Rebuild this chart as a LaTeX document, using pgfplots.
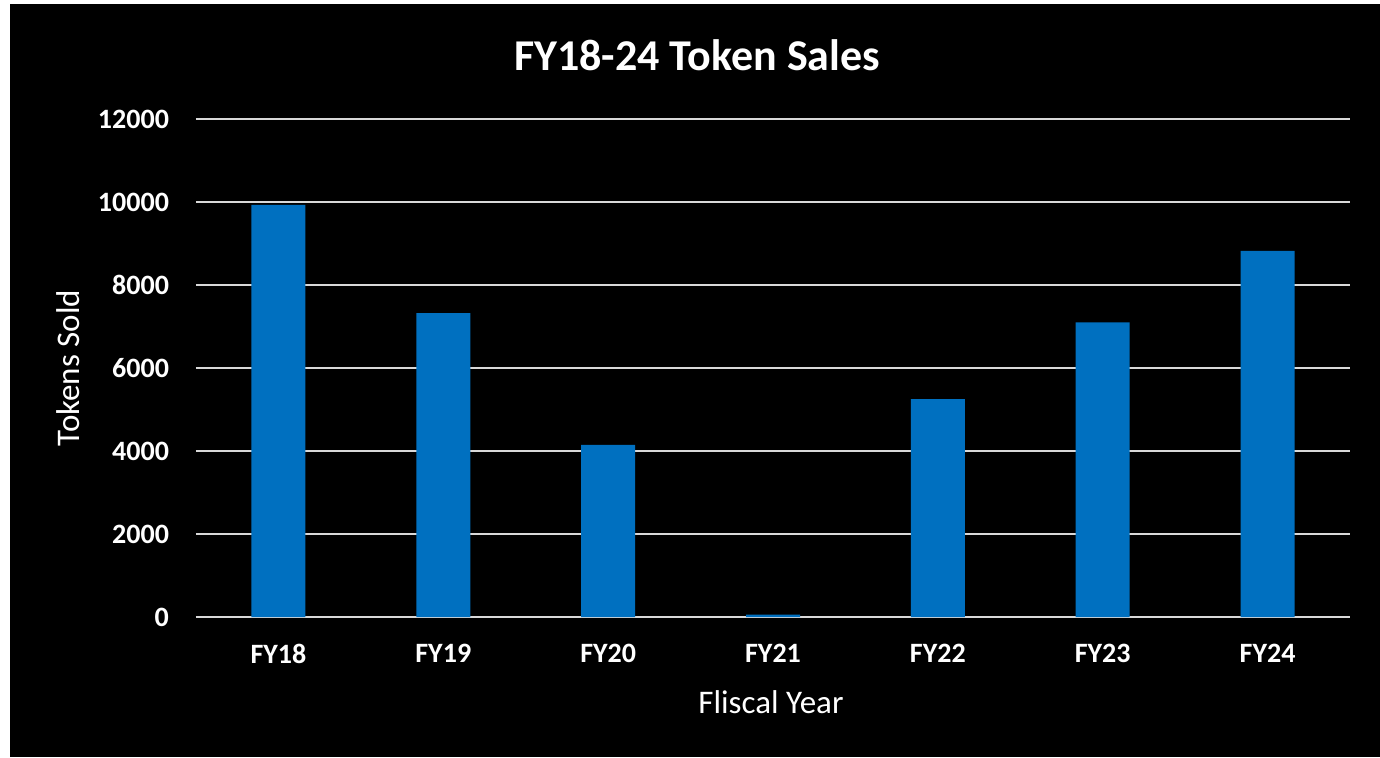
\documentclass[border=0pt]{standalone}
\usepackage{pgfplots}
\pgfplotsset{compat=1.18}
\usepackage{fontspec}
\setmainfont{Carlito}
\definecolor{barblue}{RGB}{0,112,192}
\definecolor{gridc}{RGB}{217,217,217}
\begin{document}
\begin{tikzpicture}
\fill[white] (-98pt,-70pt) rectangle (592pt,308.5pt);
\fill[black] (-93pt,-70pt) rectangle (592pt,306.5pt);
\begin{axis}[at={(0,0)}, anchor=south west, scale only axis,
  width=577pt, height=249pt,
  xmin=-0.5, xmax=6.5, ymin=0, ymax=12000,
  axis line style={draw=none},
  ytick={0,2000,...,12000},
  ymajorgrids, major grid style={gridc, line width=1pt},
  tick style={draw=none},
  scaled y ticks=false,
  /pgf/number format/.cd, 1000 sep={}, assume math mode=true, /pgfplots/.cd,
  xtick=data,
  xticklabels={FY18,FY19,FY20,FY21,FY22,FY23,FY24},
  ticklabel style={text=white, font=\bfseries\fontsize{14}{14}\selectfont},
  yticklabel style={xshift=-10pt},
  xticklabel style={yshift=-6pt},
  ybar, bar width=27pt,
]
\addplot[fill=barblue, draw=none] coordinates {
(0,9930) (1,7320) (2,4150) (3,60) (4,5250) (5,7100) (6,8820)};
\end{axis}
\node[text=white, font=\bfseries\fontsize{22}{22}\selectfont] at (250.5pt,281pt) {FY18-24 Token Sales};
\node[text=white, font=\fontsize{16.5}{16.5}\selectfont] at (287.5pt,-42.5pt) {Fliscal Year};
\node[text=white, font=\fontsize{16.5}{16.5}\selectfont, rotate=90] at (-64pt,124.5pt) {Tokens Sold};
\end{tikzpicture}
\end{document}
